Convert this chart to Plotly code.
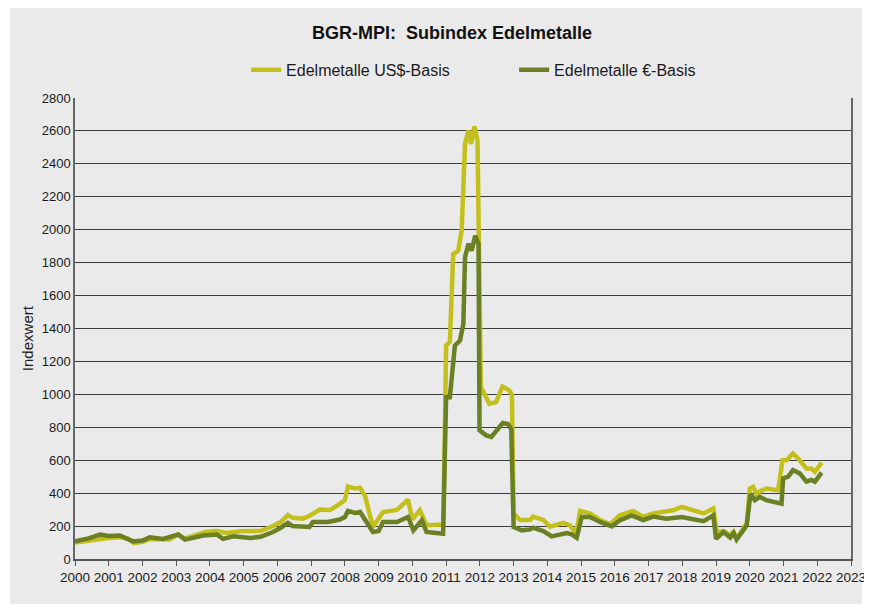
import plotly.graph_objects as go

# ---- data (decimal year, index value) ----
usd_x = [2000.0, 2000.3, 2000.7, 2001.0, 2001.35, 2001.55, 2001.75, 2002.0, 2002.25, 2002.6,
         2002.8, 2003.05, 2003.25, 2003.5, 2003.9, 2004.2, 2004.5, 2004.9, 2005.2, 2005.5,
         2005.87, 2006.1, 2006.31, 2006.45, 2006.76, 2006.95, 2007.26, 2007.56, 2007.85, 2008.0,
         2008.09, 2008.3, 2008.45, 2008.6, 2008.83, 2009.13, 2009.54, 2009.87, 2010.0, 2010.22,
         2010.42, 2010.82, 2010.92, 2011.0, 2011.11, 2011.21, 2011.36, 2011.46, 2011.56, 2011.66,
         2011.74, 2011.84, 2011.93, 2012.03, 2012.18, 2012.28, 2012.48, 2012.67, 2012.87, 2012.95,
         2013.0, 2013.19, 2013.49, 2013.58, 2013.88, 2014.08, 2014.47, 2014.67, 2014.85, 2014.97,
         2015.26, 2015.56, 2015.86, 2016.15, 2016.55, 2016.84, 2017.14, 2017.53, 2017.73, 2017.98,
         2018.33, 2018.63, 2018.92, 2019.02, 2019.22, 2019.42, 2019.52, 2019.61, 2019.91, 2020.0,
         2020.1, 2020.2, 2020.3, 2020.49, 2020.84, 2020.97, 2021.09, 2021.28, 2021.48, 2021.68,
         2021.82, 2021.93, 2022.13]
usd_y = [100, 110, 124, 128, 132, 125, 97, 105, 122, 122,
         118, 150, 124, 140, 165, 170, 158, 168, 166, 170,
         200, 225, 267, 250, 245, 262, 300, 298, 335, 358,
         440, 428, 432, 380, 194, 285, 298, 360, 240, 296,
         205, 212, 210, 1297, 1318, 1853, 1873, 1995, 2520, 2602,
         2521, 2627, 2540, 1044, 990, 943, 953, 1048, 1024, 1000,
         278, 237, 237, 258, 237, 196, 220, 205, 150, 292,
         277, 237, 212, 266, 292, 256, 277, 286, 296, 317,
         296, 277, 307, 164, 170, 145, 164, 125, 215, 428,
         438, 395, 410, 428, 418, 600, 600, 641, 600, 550,
         550, 530, 585]

eur_x = [2000.0, 2000.4, 2000.74, 2001.0, 2001.33, 2001.5, 2001.72, 2002.0, 2002.22, 2002.61,
         2003.06, 2003.26, 2003.5, 2003.8, 2004.2, 2004.39, 2004.7, 2005.19, 2005.5, 2005.87,
         2006.1, 2006.31, 2006.45, 2006.76, 2006.95, 2007.05, 2007.5, 2007.85, 2008.0, 2008.09,
         2008.3, 2008.45, 2008.6, 2008.83, 2009.0, 2009.13, 2009.54, 2009.87, 2010.03, 2010.28,
         2010.42, 2010.91, 2011.0, 2011.11, 2011.26, 2011.41, 2011.51, 2011.56, 2011.66, 2011.76,
         2011.86, 2011.96, 2011.99, 2012.19, 2012.34, 2012.68, 2012.83, 2012.93, 2013.0, 2013.24,
         2013.49, 2013.58, 2013.88, 2014.13, 2014.57, 2014.72, 2014.87, 2015.02, 2015.26, 2015.56,
         2015.91, 2016.15, 2016.5, 2016.84, 2017.14, 2017.53, 2017.98, 2018.33, 2018.63, 2018.92,
         2019.0, 2019.22, 2019.42, 2019.52, 2019.61, 2019.91, 2020.02, 2020.15, 2020.3, 2020.49,
         2020.94, 2020.99, 2021.14, 2021.28, 2021.48, 2021.68, 2021.82, 2021.93, 2022.13]
eur_y = [107, 125, 148, 140, 143, 130, 107, 112, 132, 122,
         149, 118, 130, 143, 149, 122, 138, 128, 135, 164,
         190, 219, 200, 194, 195, 225, 225, 240, 255, 292,
         280, 285, 240, 164, 170, 225, 225, 255, 174, 235,
         164, 154, 983, 983, 1297, 1327, 1428, 1833, 1914, 1873,
         1964, 1914, 781, 751, 741, 826, 820, 790, 194, 174,
         180, 190, 170, 137, 158, 150, 129, 255, 255, 225,
         198, 235, 265, 237, 258, 245, 255, 245, 230, 265,
         123, 164, 130, 158, 118, 204, 397, 357, 377, 357,
         336, 490, 500, 540, 520, 470, 480, 470, 525]

year_ticks = list(range(2000, 2024))
value_ticks = list(range(0, 2801, 200))

names = ["Edelmetalle US$-Basis", "Edelmetalle €-Basis"]
colors = ["#C4C01B", "#6B8024"]

FONT = "Liberation Sans, Arial, sans-serif"

fig = go.Figure()
fig.add_trace(go.Scatter(x=usd_x, y=usd_y, mode="lines", name=names[0],
                         line=dict(color=colors[0], width=4.5)))
fig.add_trace(go.Scatter(x=eur_x, y=eur_y, mode="lines", name=names[1],
                         line=dict(color=colors[1], width=4.5)))

fig.update_layout(
    width=872, height=611,
    margin=dict(l=67, r=29, t=90, b=60),
    paper_bgcolor="white",
    plot_bgcolor="#EAEAEA",
    font=dict(family=FONT, size=13, color="#1a1a1a"),
    showlegend=True,
    legend=dict(orientation="h", x=0.2205, xanchor="left", y=1.061, yanchor="middle",
                font=dict(size=16), bgcolor="rgba(0,0,0,0)", itemwidth=30,
                entrywidth=223, entrywidthmode="pixels", tracegroupgap=0),
    shapes=[dict(type="rect", xref="paper", yref="paper",
                 x0=-0.0838, x1=1.0142, y0=-0.0976, y1=1.1974,
                 fillcolor="#EAEAEA", line=dict(width=0), layer="below")],
    annotations=[
        dict(text="<b>BGR-MPI:  Subindex Edelmetalle</b>", xref="paper", yref="paper",
             x=0.4858, y=1.141, xanchor="center", yanchor="middle",
             showarrow=False, font=dict(size=18, color="#111")),
        dict(text="Indexwert", xref="paper", yref="paper", x=-0.0619, y=0.479,
             xanchor="center", yanchor="middle", textangle=-90, showarrow=False,
             font=dict(size=15, color="#1a1a1a")),
    ],
)

fig.update_xaxes(range=[2000, 2023], tickmode="array", tickvals=year_ticks,
                 ticktext=[str(t) for t in year_ticks],
                 showgrid=False, zeroline=False, showline=True, linecolor="#555",
                 linewidth=1.5, ticks="outside", ticklen=5, tickcolor="#555",
                 tickangle=0, tickfont=dict(size=13.5))
fig.update_yaxes(range=[0, 2800], tickmode="array", tickvals=value_ticks,
                 showgrid=True, gridcolor="#3c3c3c", gridwidth=1, zeroline=False,
                 showline=True, mirror=True, linecolor="#666", linewidth=1.5,
                 ticks="", tickfont=dict(size=13))

fig.write_html("out.html")
